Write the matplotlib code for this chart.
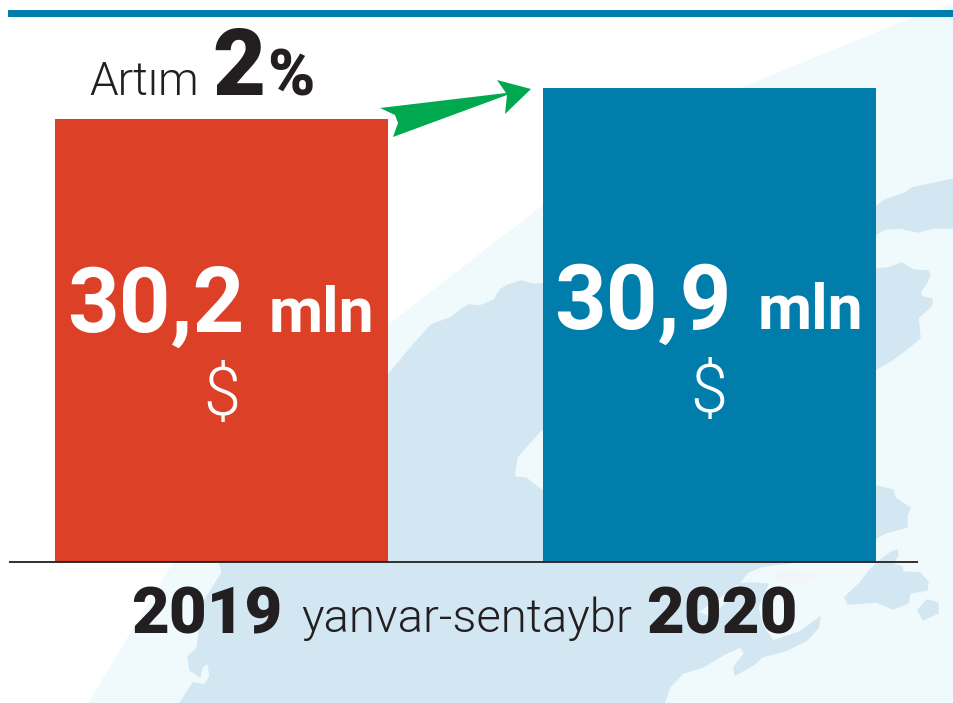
import matplotlib
matplotlib.use("Agg")
import matplotlib.pyplot as plt
from matplotlib.patches import Polygon

# Данные
years = ["2019", "2020"]
values = [30.2, 30.9]
axis_start = 20.2
unit = "mln"
currency = "$"
growth = "2"
period = "yanvar-sentaybr"

RED = "#dc4128"
BLUE = "#007dab"
GREEN = "#00a94f"
DARK = "#231f20"
PALE = "#f0f9fc"
LAND = "#d2e7f2"

plt.rcParams["font.family"] = ["Roboto", "DejaVu Sans"]

W, H = 954, 703
fig = plt.figure(figsize=(W / 100, H / 100), dpi=100)

# Фон-карта рисуем в пикселях картинки
bg = fig.add_axes([0, 0, 1, 1], zorder=0)
bg.set_xlim(0, W)
bg.set_ylim(H, 0)
bg.axis("off")

pale_shape = [(88, 703), (173, 563), (275, 440), (388, 325), (543, 205), (743, 87), (911, 18), (954, 3), (954, 703)]
main_land = [
    (409, 350), (431, 325), (450, 318), (468, 305), (480, 306), (494, 300), (500, 290), (508, 285), (521, 281),
    (532, 284), (541, 284), (700, 280), (876, 269), (888, 268), (902, 263), (913, 270), (928, 271), (930, 275),
    (927, 282), (920, 292), (922, 297), (932, 299), (932, 305), (918, 318), (920, 338), (903, 352), (892, 360),
    (876, 369), (700, 400), (541, 430), (517, 457), (514, 477), (526, 478), (541, 490), (700, 540), (780, 555),
    (797, 562), (763, 566), (748, 572), (740, 582), (720, 597), (697, 612), (710, 617), (727, 603), (740, 584),
    (752, 583), (768, 584), (758, 607), (762, 625), (773, 641), (800, 632), (820, 617), (818, 628), (807, 640),
    (787, 650), (762, 657), (753, 665), (735, 675), (734, 667), (745, 653), (740, 647), (723, 655), (703, 667),
    (683, 673), (670, 687), (664, 703), (180, 703), (193, 683), (205, 685), (210, 676), (208, 663), (202, 667),
    (200, 677), (190, 670), (188, 657), (197, 648), (203, 603), (222, 573), (220, 563), (300, 490), (388, 375),
]
band = [
    (860, 215), (876, 207), (885, 200), (905, 193), (912, 188), (954, 179), (954, 228), (933, 228), (918, 232),
    (900, 228), (885, 229), (876, 234), (860, 238),
]
island_a = [
    (860, 486), (876, 486), (893, 490), (895, 498), (910, 508), (907, 515), (907, 527), (885, 533), (876, 538),
    (860, 540),
]
island_b = [
    (897, 550), (890, 553), (877, 563), (870, 570), (860, 583), (845, 597), (848, 604), (877, 602), (893, 609),
    (908, 603), (910, 593), (927, 590), (928, 582), (920, 573), (903, 572), (902, 567), (893, 564), (898, 555),
]
island_c = [(927, 600), (918, 610), (923, 620), (938, 613), (938, 603)]
blob = [(773, 572), (800, 571), (817, 575), (810, 582), (790, 583), (778, 580)]

bg.add_patch(Polygon(pale_shape, fc=PALE, ec="none"))
for shape in [main_land, band, island_a, island_b, island_c]:
    bg.add_patch(Polygon(shape, fc=LAND, ec=LAND, lw=1, joinstyle="round"))
bg.add_patch(Polygon(blob, fc="#f3f5f7", ec="none"))

# Верхняя полоса
bg.fill_between([8, W], 10, 17, color=BLUE, lw=0)

# Столбцы: ось Y обрезана, как в оригинале
ax = fig.add_axes([0, 0, 1, 1], zorder=1)
ax.patch.set_alpha(0)
ax.set_xlim(-0.454, 1.501)
ax.set_ylim(17.02, 32.89)
ax.axis("off")
ax.bar([0, 1], [v - axis_start for v in values], bottom=axis_start, width=0.682, color=[RED, BLUE])
ax.plot([-0.4365, 1.4275], [axis_start, axis_start], color=DARK, lw=1.3, solid_capstyle="butt")

# Подписи и стрелка сверху
top = fig.add_axes([0, 0, 1, 1], zorder=2)
top.patch.set_alpha(0)
top.set_xlim(0, W)
top.set_ylim(H, 0)
top.axis("off")

arrow = [
    (380, 108), (506, 93), (497, 80), (531, 89), (505, 114), (507, 95), (393, 137), (398, 123), (395, 115),
]
top.add_patch(Polygon(arrow, fc=GREEN, ec="none"))

top.text(144, 95, "Artım", color=DARK, fontsize=33, fontweight=300, ha="center", va="baseline")
top.text(239, 95, growth, color=DARK, fontsize=66, fontweight=900, ha="center", va="baseline")
top.text(291, 95, "%", color=DARK, fontsize=46, fontweight=800, ha="center", va="baseline")

number_x = [156, 643]
number_y = [332, 329]
unit_x = [321, 810]
money_x = [222, 709]
money_y = [415, 412]
for i, v in enumerate(values):
    label = f"{v:.1f}".replace(".", ",")
    top.text(number_x[i], number_y[i], label, color="white", fontsize=65, fontweight=700, ha="center", va="baseline")
    top.text(unit_x[i], number_y[i], unit, color="white", fontsize=45, fontweight=700, ha="center", va="baseline")
    top.text(money_x[i], money_y[i], currency, color="white", fontsize=48, fontweight=300, ha="center", va="baseline")

top.text(207, 633, years[0], color=DARK, fontsize=47, fontweight=800, ha="center", va="baseline")
top.text(722, 633, years[1], color=DARK, fontsize=47, fontweight=800, ha="center", va="baseline")
top.text(467, 632, period, color=DARK, fontsize=34, fontweight=300, ha="center", va="baseline")

fig.savefig("out.png", dpi=100)
